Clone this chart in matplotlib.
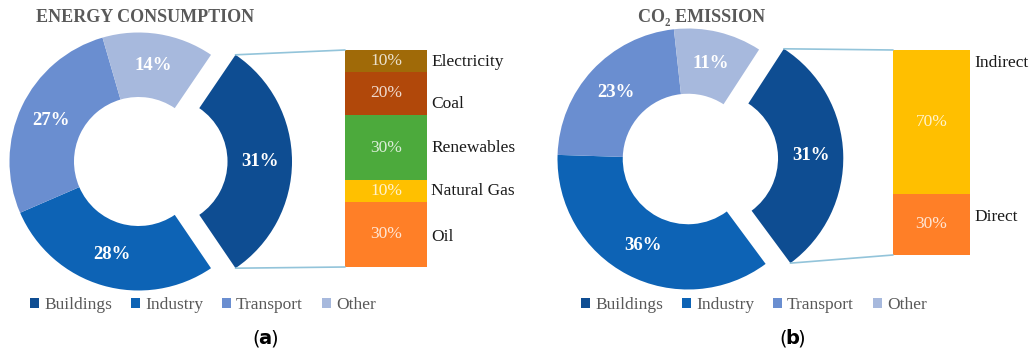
import matplotlib
matplotlib.use("Agg")
import matplotlib.pyplot as plt
from matplotlib.patches import ConnectionPatch, Patch
from matplotlib.font_manager import FontProperties
import numpy as np

# ---------------- data ----------------
sectors = ['Buildings', 'Industry', 'Transport', 'Other']
energy_share = [31, 28, 27, 14]
co2_share = [31, 36, 23, 11]

energy_sources = ['Electricity', 'Coal', 'Renewables', 'Natural Gas', 'Oil']   # top to bottom
energy_source_share = [10, 20, 30, 10, 30]

co2_types = ['Indirect', 'Direct']   # top to bottom
co2_type_share = [70, 30]

panel_titles = ['ENERGY CONSUMPTION', 'CO\u2082 EMISSION']
captions = ['a', 'b']

# ---------------- style ----------------
sector_colors = ['#0E4D92', '#0D63B5', '#6A8ED0', '#A7B9DD']
energy_source_colors = ['#A06A08', '#B1480A', '#4CAA3C', '#FFC000', '#FF7F27']
co2_type_colors = ['#FFBF00', '#FF7F27']
connector_color = '#93C4DA'
SERIF = ['Liberation Serif', 'DejaVu Serif']
GRAY = '#595959'

W, H = 1030, 352
fig = plt.figure(figsize=(W / 100, H / 100), dpi=100)


def frac_box(l, t, w, h):
    return [l / W, 1 - (t + h) / H, w / W, h / H]


def donut(values, cx, cy, r, left_px, box_w, start, explode_amt):
    ax = fig.add_axes(frac_box(left_px, 0, box_w, H))
    explode = [explode_amt] + [0] * (len(values) - 1)
    ax.pie(values, colors=sector_colors, startangle=start, counterclock=False,
           explode=explode, radius=1.0,
           wedgeprops=dict(width=0.5, linewidth=0),
           autopct='%.0f%%', pctdistance=0.75,
           textprops=dict(color='white', fontsize=13.5, fontweight='bold', family=SERIF))
    ax.set_aspect('auto')
    ax.set_xlim((left_px - cx) / r, (left_px + box_w - cx) / r)
    ax.set_ylim((cy - H) / r, cy / r)
    ax.axis('off')
    # corners of exploded first wedge
    B = 360.0 * values[0] / sum(values)
    m = np.deg2rad(start - B / 2)
    ox, oy = explode_amt * np.cos(m), explode_amt * np.sin(m)
    a1, a2 = np.deg2rad(start), np.deg2rad(start - B)
    top = (ox + np.cos(a1), oy + np.sin(a1))
    bot = (ox + np.cos(a2), oy + np.sin(a2))
    return ax, top, bot


def stacked_bar(names, vals, colors, l, t, w, h, label_pos):
    ax = fig.add_axes(frac_box(l, t, w, h))
    bottom = 0
    for name, v, c in zip(names[::-1], vals[::-1], colors[::-1]):
        ax.bar(0, v, bottom=bottom, width=1.0, color=c, linewidth=0)
        ax.text(0, bottom + v / 2, f'{v}%', ha='center', va='center',
                color='white', alpha=0.8, fontsize=12.5, family=SERIF)
        bottom += v
    for name, y in zip(names, label_pos):
        ax.annotate(name, xy=(1, y), xycoords=('axes fraction', 'data'),
                    xytext=(3, 0), textcoords='offset points',
                    ha='left', va='center', fontsize=12.5, family=SERIF, color='#1a1a1a')
    ax.set_xlim(-0.5, 0.5)
    ax.set_ylim(0, sum(vals))
    ax.axis('off')
    return ax


def connect(ax_pie, top, bot, ax_bar):
    for p, yb in ((top, 1), (bot, 0)):
        con = ConnectionPatch(xyA=p, coordsA=ax_pie.transData,
                              xyB=(0, yb), coordsB=ax_bar.transAxes,
                              color=connector_color, lw=1.2)
        fig.add_artist(con)


# ---------- panel (a) ----------
pa, ta, ba = donut(energy_share, 138.5, 161.5, 129, 0, 340, 55.8, 0.19)
bar_a = stacked_bar(energy_sources, energy_source_share, energy_source_colors,
                    345, 50, 82, 217, [94.5, 75, 55, 35, 14])
connect(pa, ta, ba, bar_a)

# ---------- panel (b) ----------
pb, tb, bb = donut(co2_share, 688, 159, 130.5, 520, 370, 57, 0.19)
bar_b = stacked_bar(co2_types, co2_type_share, co2_type_colors,
                    893, 50, 77, 205, [93.5, 18.5])
connect(pb, tb, bb, bar_b)

# ---------- titles ----------
for txt, x, y in zip(panel_titles, [145, 702], [17, 18]):
    fig.text(x / W, 1 - y / H, txt, ha='center', va='center', fontsize=13,
             fontweight='bold', family=SERIF, color=GRAY)

# ---------- legends ----------
handles = [Patch(facecolor=c, edgecolor='none') for c in sector_colors]
legend_font = FontProperties(family='Liberation Serif', size=12.5)
for cxl in (203, 754):
    fig.legend(handles, sectors, loc='center', bbox_to_anchor=(cxl / W, 1 - 305 / H),
               ncol=4, frameon=False, prop=legend_font,
               labelcolor=GRAY, handlelength=0.5, handleheight=0.5,
               handletextpad=0.3, columnspacing=1.1, borderpad=0)

# ---------- captions: "(" regular, letter bold, ")" regular ----------
for c, x in zip(captions, [265, 792]):
    y = 1 - 339 / H
    fig.text(x / W, y, c, ha='center', va='center', fontsize=14,
             fontweight='bold', family='DejaVu Sans', color='black')
    fig.text((x - 5.5) / W, y, '(', ha='right', va='center', fontsize=14,
             family='DejaVu Sans', color='black')
    fig.text((x + 5.5) / W, y, ')', ha='left', va='center', fontsize=14,
             family='DejaVu Sans', color='black')

fig.savefig('out.png', dpi=100)
